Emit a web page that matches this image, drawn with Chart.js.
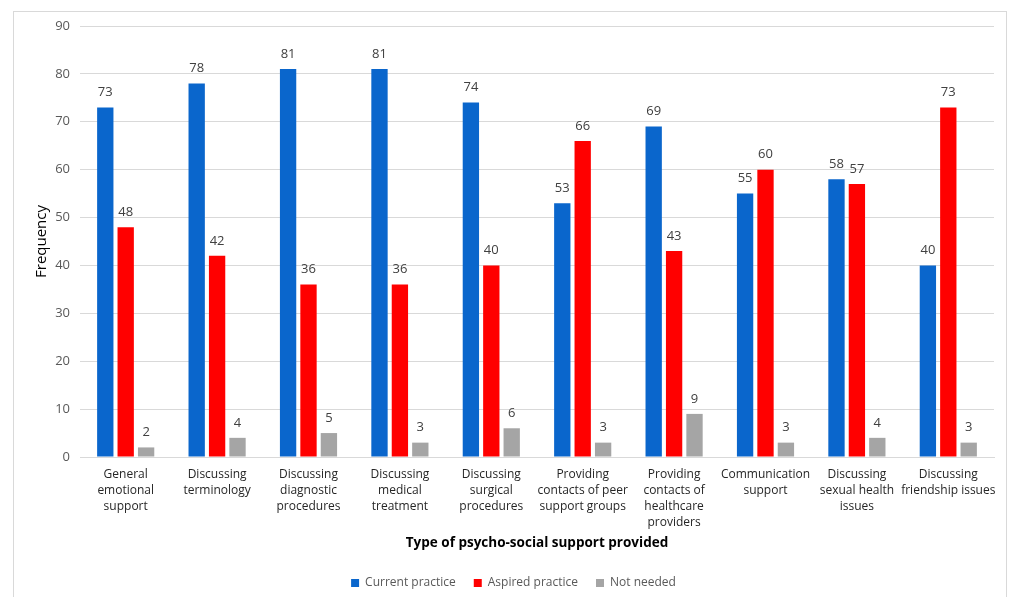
<!DOCTYPE html>
<html>
<head>
<meta charset="utf-8">
<script src="https://cdn.jsdelivr.net/npm/chart.js@4.4.0/dist/chart.umd.min.js"></script>
<style>
  html, body { margin: 0; padding: 0; background: #fff; }
  #wrap { width: 1010px; height: 597px; }
</style>
</head>
<body>
<div id="wrap"><canvas id="myChart" width="1010" height="597"></canvas></div>
<script>
// categories (multi-line labels as in the original figure)
var categories = [
  ["General", "emotional", "support"],
  ["Discussing", "terminology"],
  ["Discussing", "diagnostic", "procedures"],
  ["Discussing", "medical", "treatment"],
  ["Discussing", "surgical", "procedures"],
  ["Providing", "contacts of peer", "support groups"],
  ["Providing", "contacts of", "healthcare", "providers"],
  ["Communication", "support"],
  ["Discussing", "sexual health", "issues"],
  ["Discussing", "friendship issues"]
];
var currentPractice = [73, 78, 81, 81, 74, 53, 69, 55, 58, 40];
var aspiredPractice = [48, 42, 36, 36, 40, 66, 43, 60, 57, 73];
var notNeeded = [2, 4, 5, 3, 6, 3, 9, 3, 4, 3];
var yTicks = [0, 10, 20, 30, 40, 50, 60, 70, 80, 90];

var FONT = "'Open Sans', 'Noto Sans', sans-serif";

// light frame round the whole figure
var framePlugin = {
  id: 'frame',
  beforeDraw: function(chart) {
    var c = chart.ctx;
    c.save();
    c.strokeStyle = '#d9d9d9';
    c.lineWidth = 1;
    c.strokeRect(13.5, 11.5, 993, 590);
    c.restore();
  }
};

// value labels above each bar
var valueLabels = {
  id: 'valueLabels',
  afterDatasetsDraw: function(chart) {
    var c = chart.ctx;
    c.save();
    c.font = '13px ' + FONT;
    c.fillStyle = '#404040';
    c.textAlign = 'center';
    c.textBaseline = 'middle';
    chart.data.datasets.forEach(function(ds, i) {
      chart.getDatasetMeta(i).data.forEach(function(bar, j) {
        c.fillText(ds.data[j], bar.x, bar.y - 15);
      });
    });
    c.restore();
  }
};

var ctx = document.getElementById('myChart').getContext('2d');
var myChart = new Chart(ctx, {
  type: 'bar',
  data: {
    labels: categories,
    datasets: [
      { label: 'Current practice', data: currentPractice, backgroundColor: '#0a66cc' },
      { label: 'Aspired practice', data: aspiredPractice, backgroundColor: '#ff0000' },
      { label: 'Not needed', data: notNeeded, backgroundColor: '#a5a5a5' }
    ]
  },
  options: {
    responsive: false,
    animation: false,
    devicePixelRatio: 1,
    categoryPercentage: 0.67,
    barPercentage: 0.8,
    layout: { padding: { left: 33, right: 16, top: 26, bottom: -2 } },
    plugins: {
      legend: {
        position: 'bottom',
        labels: {
          boxWidth: 8,
          boxHeight: 8,
          padding: 18,
          color: '#595959',
          font: { family: FONT, size: 12 }
        }
      },
      tooltip: { enabled: false }
    },
    scales: {
      x: {
        afterFit: function(scale) { scale.height = 102; },
        grid: { display: false, drawTicks: false },
        border: { color: '#d9d9d9' },
        ticks: {
          color: '#262626',
          font: { family: FONT, size: 12, lineHeight: 1.35 },
          maxRotation: 0,
          autoSkip: false,
          padding: 9
        },
        title: {
          display: true,
          text: 'Type of psycho-social support provided',
          color: '#000',
          font: { family: FONT, size: 13.5, weight: 'bold' },
          padding: { top: 6, bottom: 8 }
        }
      },
      y: {
        min: 0,
        max: 90,
        afterBuildTicks: function(scale) {
          scale.ticks = yTicks.map(function(v) { return { value: v }; });
        },
        afterFit: function(scale) { scale.width = 47; },
        grid: { color: '#d9d9d9', drawTicks: false },
        border: { display: false },
        ticks: {
          color: '#595959',
          font: { family: FONT, size: 13 },
          padding: 10
        },
        title: {
          display: true,
          text: 'Frequency',
          color: '#000',
          font: { family: FONT, size: 15 },
          padding: 0
        }
      }
    }
  },
  plugins: [framePlugin, valueLabels]
});
</script>
</body>
</html>
